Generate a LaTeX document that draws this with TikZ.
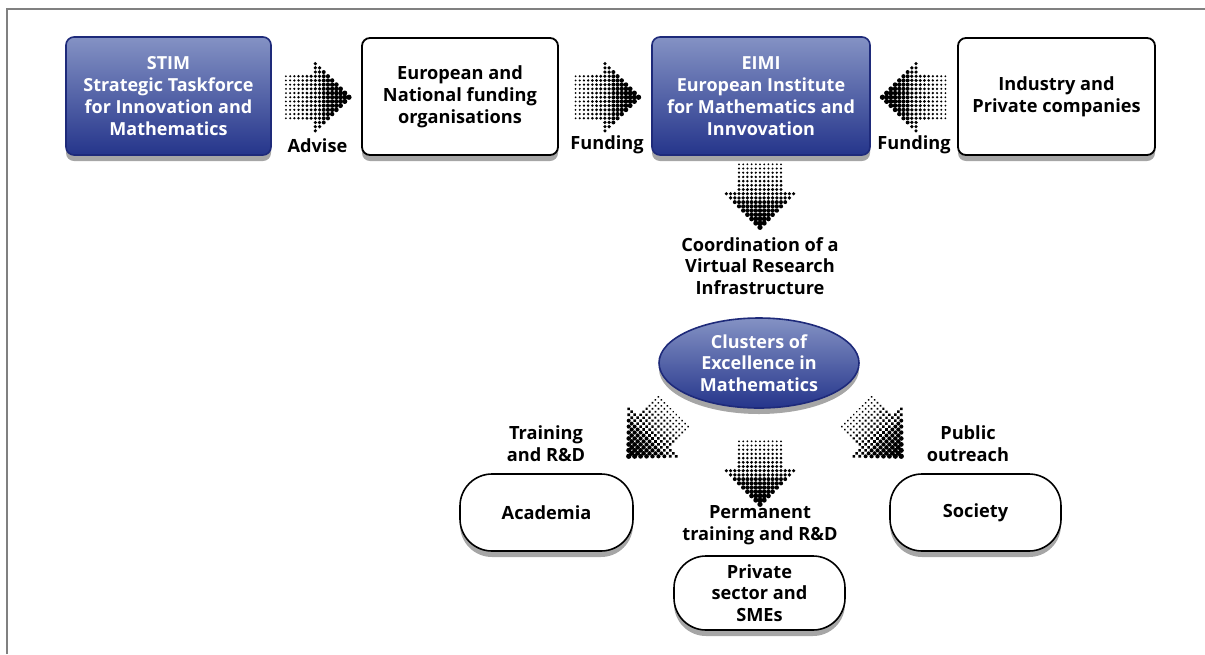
\documentclass[tikz,border=0pt]{standalone}
\usepackage{fontspec}
\setmainfont{Open Sans}
\usepackage{tikz}
\usetikzlibrary{calc,positioning,shapes.geometric,shadows}
\definecolor{framegray}{HTML}{808080}
\definecolor{bluetop}{HTML}{8492C4}
\definecolor{bluebot}{HTML}{25358B}
\definecolor{blueedge}{HTML}{1E2A7A}
\tikzset{
  txt/.style={font=\bfseries\fontsize{9.1}{10.9}\selectfont, align=center, text=black},
  wtxt/.style={font=\bfseries\fontsize{9}{10.9}\selectfont, align=center, text=white},
  shad/.style={drop shadow={fill=black, opacity=0.35, shadow xshift=0pt, shadow yshift=-3pt}},
  bluebox/.style={wtxt, rectangle, rounded corners=4pt, draw=blueedge, line width=0.8pt,
    top color=bluetop, bottom color=bluebot, shad, inner sep=0pt},
  whitebox/.style={txt, rectangle, rounded corners=4pt, draw=black, line width=0.9pt,
    fill=white, shad, inner sep=0pt},
  capsule/.style={txt, rectangle, rounded corners=16pt, draw=black, line width=0.8pt,
    fill=white, shad, inner sep=0pt},
  frame/.style={draw=framegray, line width=0.8pt},
}
% halftone arrow: #1 centre, #2 direction
\newcommand{\dotarrow}[2]{%
  \begin{scope}[shift={#1}, rotate=#2]
    \foreach \i in {0,...,15}{
      \pgfmathtruncatemacro{\nh}{\i<7 ? 5 : 15-\i}
      \pgfmathsetmacro{\rr}{0.5+0.055*\i}
      \foreach \j in {-\nh,...,\nh}
        \fill[black] (\i*4.2-31.5, \j*4.2) circle (\rr pt);
    }
  \end{scope}}

\begin{document}
\begin{tikzpicture}[x=0.5pt, y=-0.5pt]
  \useasboundingbox (0,0) rectangle (1205,654);
  \draw[frame] (7,654) -- (7,9) -- (1205,9);

  % top row
  \node[bluebox, minimum width=102.5pt, minimum height=59pt] (stim) at (168.5,96)
    {STIM\\Strategic Taskforce\\for Innovation and\\Mathematics};
  \node[whitebox, minimum width=98pt, minimum height=58.5pt] (funders) at (460,96.5)
    {European and\\National funding\\organisations};
  \node[bluebox, minimum width=109pt, minimum height=59pt] (eimi) at (761,96)
    {EIMI\\European Institute\\for Mathematics and\\Innvovation};
  \node[whitebox, minimum width=98.5pt, minimum height=58.5pt] (industry) at (1056.5,96.5)
    {Industry and\\Private companies};

  \coordinate (a1) at ($(stim.east)!0.5!(funders.west)+(1,1)$);
  \coordinate (a2) at ($(funders.east)!0.5!(eimi.west)+(2,1)$);
  \coordinate (a3) at ($(eimi.east)!0.5!(industry.west)+(0,1)$);
  \dotarrow{(a1)}{0}
  \dotarrow{(a2)}{0}
  \dotarrow{(a3)}{180}
  \node[txt] (advise) at ($(a1)+(0,48)$) {Advise};
  \node[txt] (fund1) at ($(a2)+(0,48)$) {Funding};
  \node[txt] (fund2) at ($(a3)+(0,48)$) {Funding};

  % down to the clusters
  \coordinate (a4) at ($(eimi.south)+(-1,40)$);
  \dotarrow{(a4)}{-90}
  \node[txt] (coord) at (760,266) {Coordination of a\\Virtual Research\\Infrastructure};

  \node[bluebox, ellipse, minimum width=100pt, minimum height=45pt] (clusters) at (759,363)
    {Clusters of\\Excellence in\\Mathematics};

  \coordinate (a5) at ($(clusters.center)+(-108,71)$);
  \coordinate (a6) at ($(clusters.center)+(120,71)$);
  \coordinate (a7) at ($(clusters.south)+(1,64)$);
  \dotarrow{(a5)}{225}
  \dotarrow{(a6)}{-45}
  \dotarrow{(a7)}{-90}
  \node[txt] (train) at (546,444) {Training\\and R\&D};
  \node[txt] (outreach) at (968,444) {Public\\outreach};
  \node[txt] (perm) at (760,525) {Permanent\\training and R\&D};

  % bottom row
  \node[capsule, minimum width=86.5pt, minimum height=38.5pt] (academia) at (546.5,512.5) {Academia};
  \node[capsule, minimum width=85.5pt, minimum height=38.5pt] (society) at (975.5,512.5) {Society};
  \node[capsule, minimum width=85.5pt, minimum height=37pt] (private) at (759.5,593)
    {Private\\sector and\\SMEs};
\end{tikzpicture}
\end{document}
